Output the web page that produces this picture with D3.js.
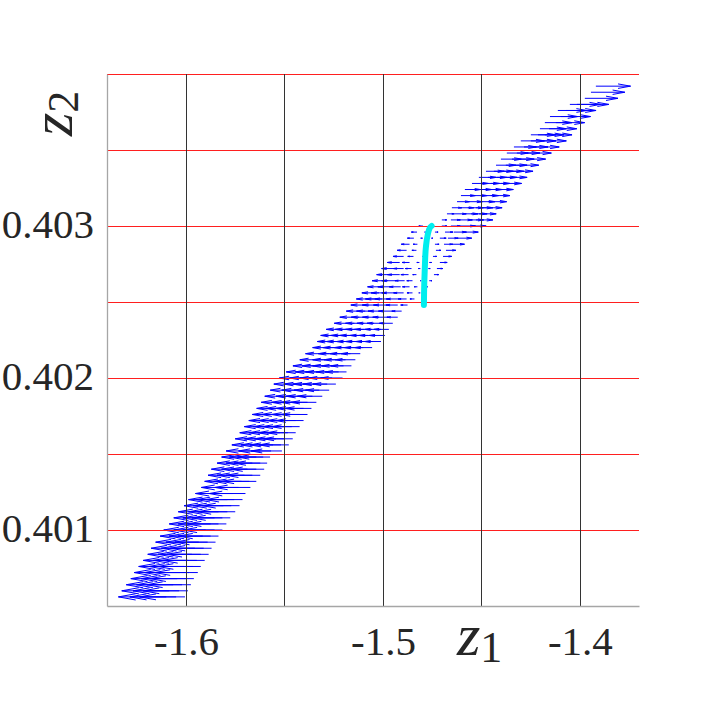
<!DOCTYPE html>
<html>
<head>
<meta charset="utf-8">
<script src="https://cdn.jsdelivr.net/npm/d3@7/dist/d3.min.js"></script>
<style>
  html, body { margin: 0; padding: 0; background: #ffffff; }
  svg { display: block; }
</style>
</head>
<body>
<svg id="chart" width="706" height="706"></svg>
<script>
// ---------------- data ----------------
const z1Domain = [-1.6401, -1.3700];
const z2Domain = [0.4005, 0.4040];
const z1Ticks = [-1.6, -1.5, -1.4];
const z1TickLabels = ["-1.6", "-1.5", "-1.4"];
const z2Ticks = [0.401, 0.402, 0.403];
const z2TickLabels = ["0.401", "0.402", "0.403"];
const z1Grid = [-1.6, -1.55, -1.5, -1.45, -1.4];
const z2Grid = [0.401, 0.4015, 0.402, 0.4025, 0.403, 0.4035, 0.404];

// quiver sample rows: z2 of each row, tail z1 of each arrow in the row, and its u (z1 component)
const rowZ2 = [0.40056,0.40060,0.40064,0.40068,0.40072,0.40076,0.40080,0.40084,0.40088,0.40092,
  0.40096,0.40100,0.40104,0.40108,0.40112,0.40116,0.40120,0.40124,0.40128,0.40132,
  0.40136,0.40140,0.40144,0.40148,0.40152,0.40156,0.40160,0.40164,0.40168,0.40172,
  0.40176,0.40180,0.40184,0.40188,0.40192,0.40196,0.40200,0.40204,0.40208,0.40212,
  0.40216,0.40220,0.40224,0.40228,0.40232,0.40236,0.40240,0.40244,0.40248,0.40252,
  0.40256,0.40260,0.40264,0.40268,0.40272,0.40276,0.40280,0.40284,0.40288,0.40292,
  0.40296,0.40300,0.40304,0.40308,0.40312,0.40316,0.40320,0.40324,0.40328,0.40332,
  0.40336,0.40340,0.40344,0.40348,0.40352,0.40356,0.40360,0.40364,0.40368,0.40372,
  0.40376,0.40380,0.40384,0.40388,0.40392];

const rowZ1 = [
  [-1.6100,-1.6050,-1.6005],
  [-1.6085,-1.6035,-1.5990],
  [-1.6065,-1.6020,-1.5975],
  [-1.6045,-1.6000,-1.5960],
  [-1.6030,-1.5985,-1.5940],
  [-1.6010,-1.5965,-1.5925],
  [-1.5990,-1.5945,-1.5905],
  [-1.5970,-1.5925,-1.5885],
  [-1.5955,-1.5910,-1.5870],
  [-1.5935,-1.5890,-1.5850],
  [-1.5915,-1.5875,-1.5835],
  [-1.5900,-1.5855,-1.5815],
  [-1.5875,-1.5835,-1.5795],
  [-1.5855,-1.5815,-1.5775],
  [-1.5835,-1.5790,-1.5750],
  [-1.5810,-1.5770,-1.5728],
  [-1.5790,-1.5755,-1.5713],
  [-1.5760,-1.5698],
  [-1.5733,-1.5673],
  [-1.5718,-1.5678,-1.5643],
  [-1.5703,-1.5663,-1.5623],
  [-1.5688,-1.5643,-1.5603],
  [-1.5663,-1.5623,-1.5588],
  [-1.5643,-1.5608,-1.5573],
  [-1.5623,-1.5568,-1.5513],
  [-1.5598,-1.5558,-1.5518,-1.5478],
  [-1.5583,-1.5543,-1.5498,-1.5458],
  [-1.5563,-1.5523,-1.5483,-1.5443],
  [-1.5543,-1.5503,-1.5463,-1.5423],
  [-1.5523,-1.5483,-1.5443,-1.5403],
  [-1.5508,-1.5468,-1.5423,-1.5383],
  [-1.5488,-1.5448,-1.5403,-1.5363],
  [-1.5468,-1.5423,-1.5383,-1.5338],
  [-1.5453,-1.5403,-1.5358,-1.5308],
  [-1.5428,-1.5378,-1.5323,-1.5273],
  [-1.5413,-1.5368,-1.5328,-1.5283,-1.5239],
  [-1.5388,-1.5343,-1.5298,-1.5258,-1.5205],
  [-1.5358,-1.5318,-1.5273,-1.5225,-1.5185],
  [-1.5328,-1.5288,-1.5240,-1.5200,-1.5160],
  [-1.5298,-1.5240,-1.5190,-1.5140],
  [-1.5273,-1.5215,-1.5165,-1.5115],
  [-1.5240,-1.5195,-1.5145,-1.5100,-1.5055],
  [-1.5220,-1.5180,-1.5135,-1.5095,-1.5050,-1.5010],
  [-1.5205,-1.5160,-1.5120,-1.5075,-1.5035,-1.4990],
  [-1.5180,-1.5140,-1.5095,-1.5055,-1.5010,-1.4970],
  [-1.5145,-1.5095,-1.5045,-1.5000,-1.4950],
  [-1.5120,-1.5070,-1.5020,-1.4975,-1.4925],
  [-1.5090,-1.5045,-1.4995,-1.4950,-1.4905],
  [-1.5070,-1.5020,-1.4970,-1.4925,-1.4875],
  [-1.5045,-1.5005,-1.4965,-1.4920,-1.4880,-1.4840],
  [-1.5020,-1.4980,-1.4935,-1.4895,-1.4850,-1.4810],
  [-1.4995,-1.4950,-1.4910,-1.4865,-1.4825,-1.4780],
  [-1.4975,-1.4935,-1.4890,-1.4850,-1.4805,-1.4765],
  [-1.4955,-1.4915,-1.4870,-1.4830,-1.4785,-1.4741],
  [-1.4935,-1.4895,-1.4855,-1.4810,-1.4770,-1.4726],
  [-1.4915,-1.4865,-1.4815,-1.4765,-1.4711],
  [-1.4895,-1.4845,-1.4795,-1.4746,-1.4695],
  [-1.4880,-1.4830,-1.4780,-1.4731,-1.4680],
  [-1.4865,-1.4825,-1.4780,-1.4736,-1.4690,-1.4650],
  [-1.4843,-1.4797,-1.4756,-1.4711,-1.4670,-1.4624],
  [-1.4827,-1.4782,-1.4736,-1.4685,-1.4640,-1.4594],
  [-1.4797,-1.4751,-1.4701,-1.4655,-1.4604,-1.4558],
  [-1.4701,-1.4655,-1.4614,-1.4569,-1.4528],
  [-1.4675,-1.4635,-1.4594,-1.4553,-1.4513],
  [-1.4650,-1.4609,-1.4569,-1.4528,-1.4487],
  [-1.4624,-1.4574,-1.4518,-1.4467],
  [-1.4604,-1.4553,-1.4503,-1.4452],
  [-1.4584,-1.4533,-1.4487,-1.4437],
  [-1.4548,-1.4498,-1.4452,-1.4401],
  [-1.4513,-1.4467,-1.4421,-1.4376],
  [-1.4477,-1.4437,-1.4391,-1.4350],
  [-1.4426,-1.4376,-1.4325],
  [-1.4401,-1.4345,-1.4294],
  [-1.4371,-1.4320,-1.4269],
  [-1.4335,-1.4284,-1.4234],
  [-1.4300,-1.4249,-1.4203],
  [-1.4249,-1.4213,-1.4178],
  [-1.4203,-1.4157],
  [-1.4178,-1.4122],
  [-1.4152,-1.4096],
  [-1.4112,-1.4071],
  [-1.4051,-1.4015],
  [-1.3975],
  [-1.3944],
  [-1.3919]
];

const rowU = [
  [-0.0243,-0.0235,-0.0230],
  [-0.0241,-0.0234,-0.0227],
  [-0.0238,-0.0231,-0.0224],
  [-0.0235,-0.0228,-0.0222],
  [-0.0233,-0.0226,-0.0219],
  [-0.0230,-0.0223,-0.0217],
  [-0.0227,-0.0220,-0.0214],
  [-0.0224,-0.0217,-0.0211],
  [-0.0222,-0.0215,-0.0209],
  [-0.0219,-0.0212,-0.0206],
  [-0.0216,-0.0210,-0.0204],
  [-0.0213,-0.0207,-0.0201],
  [-0.0210,-0.0204,-0.0198],
  [-0.0207,-0.0201,-0.0195],
  [-0.0204,-0.0197,-0.0191],
  [-0.0200,-0.0194,-0.0189],
  [-0.0197,-0.0191,-0.0186],
  [-0.0192,-0.0184],
  [-0.0189,-0.0180],
  [-0.0187,-0.0181,-0.0176],
  [-0.0185,-0.0179,-0.0173],
  [-0.0183,-0.0176,-0.0170],
  [-0.0179,-0.0173,-0.0168],
  [-0.0176,-0.0171,-0.0165],
  [-0.0173,-0.0165,-0.0156],
  [-0.0169,-0.0163,-0.0157,-0.0151],
  [-0.0167,-0.0160,-0.0154,-0.0148],
  [-0.0164,-0.0158,-0.0152,-0.0146],
  [-0.0161,-0.0155,-0.0149,-0.0143],
  [-0.0158,-0.0152,-0.0146,-0.0140],
  [-0.0156,-0.0150,-0.0143,-0.0137],
  [-0.0153,-0.0147,-0.0140,-0.0134],
  [-0.0150,-0.0143,-0.0137,-0.0130],
  [-0.0147,-0.0140,-0.0133,-0.0126],
  [-0.0144,-0.0136,-0.0128,-0.0120],
  [-0.0141,-0.0135,-0.0129,-0.0122,-0.0116],
  [-0.0138,-0.0131,-0.0124,-0.0118,-0.0111],
  [-0.0133,-0.0127,-0.0120,-0.0114,-0.0108],
  [-0.0129,-0.0123,-0.0117,-0.0111,-0.0105],
  [-0.0124,-0.0117,-0.0109,-0.0102],
  [-0.0120,-0.0113,-0.0105,-0.0098],
  [-0.0117,-0.0110,-0.0102,-0.0096,-0.0089],
  [-0.0114,-0.0108,-0.0101,-0.0095,-0.0088,-0.0082],
  [-0.0111,-0.0105,-0.0099,-0.0092,-0.0086,-0.0079],
  [-0.0108,-0.0102,-0.0095,-0.0089,-0.0082,-0.0076],
  [-0.0102,-0.0095,-0.0087,-0.0081,-0.0068],
  [-0.0099,-0.0091,-0.0084,-0.0077,-0.0055],
  [-0.0096,-0.0089,-0.0081,-0.0073,-0.0050],
  [-0.0093,-0.0085,-0.0078,-0.0060,-0.0035],
  [-0.0090,-0.0084,-0.0078,-0.0063,-0.0043,-0.0023],
  [-0.0087,-0.0080,-0.0071,-0.0051,-0.0028,-0.0008],
  [-0.0083,-0.0076,-0.0058,-0.0036,-0.0016,0.0007],
  [-0.0080,-0.0071,-0.0049,-0.0029,-0.0006,0.0014],
  [-0.0077,-0.0062,-0.0039,-0.0019,0.0004,0.0024],
  [-0.0072,-0.0052,-0.0032,-0.0010,0.0010,0.0030],
  [-0.0063,-0.0038,-0.0013,0.0012,0.0037],
  [-0.0054,-0.0029,-0.0004,0.0019,0.0044],
  [-0.0048,-0.0023,0.0003,0.0025,0.0050],
  [-0.0042,-0.0022,0.0001,0.0021,0.0044,0.0064],
  [-0.0033,-0.0011,0.0010,0.0032,0.0052,0.0075],
  [-0.0029,-0.0006,0.0016,0.0041,0.0064,0.0078],
  [-0.0021,0.0001,0.0026,0.0049,0.0074,0.0082],
  [0.0025,0.0048,0.0068,0.0080,0.0086],
  [0.0038,0.0058,0.0076,0.0082,0.0088],
  [0.0050,0.0070,0.0080,0.0086,0.0092],
  [0.0063,0.0079,0.0087,0.0095],
  [0.0073,0.0082,0.0090,0.0097],
  [0.0078,0.0085,0.0092,0.0099],
  [0.0083,0.0090,0.0097,0.0105],
  [0.0088,0.0095,0.0102,0.0108],
  [0.0093,0.0099,0.0106,0.0112],
  [0.0101,0.0108,0.0116],
  [0.0105,0.0113,0.0120],
  [0.0109,0.0117,0.0124],
  [0.0114,0.0122,0.0129],
  [0.0120,0.0127,0.0134],
  [0.0127,0.0132,0.0138],
  [0.0134,0.0141],
  [0.0138,0.0146],
  [0.0141,0.0150],
  [0.0147,0.0153],
  [0.0156,0.0162],
  [0.0168],
  [0.0172],
  [0.0176]
];

// cyan curve
const cyanZ1 = [-1.4792, -1.4790, -1.4787, -1.4782, -1.4773, -1.4761, -1.4753];
const cyanZ2 = [0.40248, 0.40263, 0.40274, 0.40286, 0.40294, 0.40299, 0.40300];

// ---------------- drawing ----------------
const svg = d3.select("#chart");
svg.append("rect").attr("width", 706).attr("height", 706).attr("fill", "#ffffff");

const x = d3.scaleLinear().domain(z1Domain).range([107, 639]);
const y = d3.scaleLinear().domain(z2Domain).range([606, 74]);

const FONT = "'Liberation Serif', 'Times New Roman', serif";

// flatten quiver
const arrows = [];
rowZ2.forEach((z2, i) => {
  rowZ1[i].forEach((z1, j) => {
    arrows.push({ z1: z1, z2: z2, u: rowU[i][j] });
  });
});

const gArrows = svg.append("g");
gArrows.selectAll("path")
  .data(arrows)
  .join("path")
  .attr("d", d => {
    const x0 = x(d.z1), y0 = y(d.z2), x1 = x(d.z1 + d.u);
    const len = x1 - x0;
    const hx = x1 - 0.36 * len;
    const hw = 0.065 * Math.abs(len);
    return `M${x0},${y0}L${x1},${y0}M${hx},${y0 - hw}L${x1},${y0}L${hx},${y0 + hw}`;
  })
  .attr("fill", "none")
  .attr("stroke", "#0000ff")
  .attr("stroke-width", 1);

// grid lines (drawn over arrows)
svg.append("g").selectAll("line")
  .data(z2Grid)
  .join("line")
  .attr("x1", x.range()[0]).attr("x2", x.range()[1])
  .attr("y1", d => Math.round(y(d)) + 0.5).attr("y2", d => Math.round(y(d)) + 0.5)
  .attr("stroke", "#ff1f1f")
  .attr("stroke-width", 1);

svg.append("g").selectAll("line")
  .data(z1Grid)
  .join("line")
  .attr("x1", d => Math.round(x(d)) + 0.5).attr("x2", d => Math.round(x(d)) + 0.5)
  .attr("y1", y.range()[0]).attr("y2", y.range()[1])
  .attr("stroke", "#333333")
  .attr("stroke-width", 1);

// cyan curve
svg.append("path")
  .datum(cyanZ1.map((v, i) => [v, cyanZ2[i]]))
  .attr("d", d3.line().x(d => x(d[0])).y(d => y(d[1])).curve(d3.curveMonotoneY))
  .attr("fill", "none")
  .attr("stroke", "#00eeee")
  .attr("stroke-width", 6)
  .attr("stroke-linecap", "round");

// axes
const xAxis = d3.axisBottom(x)
  .tickValues(z1Ticks)
  .tickFormat((d, i) => z1TickLabels[i])
  .tickSize(0)
  .tickSizeOuter(0)
  .tickPadding(20);
const gx = svg.append("g").attr("transform", "translate(0,606)").call(xAxis);
gx.select(".domain").attr("stroke", "#a6a6a6").attr("stroke-width", 1.3);
gx.selectAll("text")
  .attr("font-family", FONT).attr("font-size", 41).attr("fill", "#262626");

const yAxis = d3.axisLeft(y)
  .tickValues(z2Ticks)
  .tickFormat((d, i) => z2TickLabels[i])
  .tickSize(0)
  .tickSizeOuter(0)
  .tickPadding(13);
const gy = svg.append("g").attr("transform", "translate(107,0)").call(yAxis);
gy.select(".domain").attr("stroke", "#a6a6a6").attr("stroke-width", 1.3);
gy.selectAll("text")
  .attr("font-family", FONT).attr("font-size", 41).attr("fill", "#262626")
  .attr("dy", "0.28em");

// axis labels
const xl = svg.append("text")
  .attr("x", 457).attr("y", 655)
  .attr("font-family", FONT).attr("fill", "#262626");
xl.append("tspan").attr("font-style", "italic").attr("font-size", 60).text("z");
xl.append("tspan").attr("font-size", 44).attr("dy", 7).text("1");

const yl = svg.append("text")
  .attr("transform", "translate(72,136) rotate(-90)")
  .attr("font-family", FONT).attr("fill", "#262626");
yl.append("tspan").attr("font-style", "italic").attr("font-size", 60).text("z");
yl.append("tspan").attr("font-size", 44).attr("dy", 6).text("2");
</script>
</body>
</html>
